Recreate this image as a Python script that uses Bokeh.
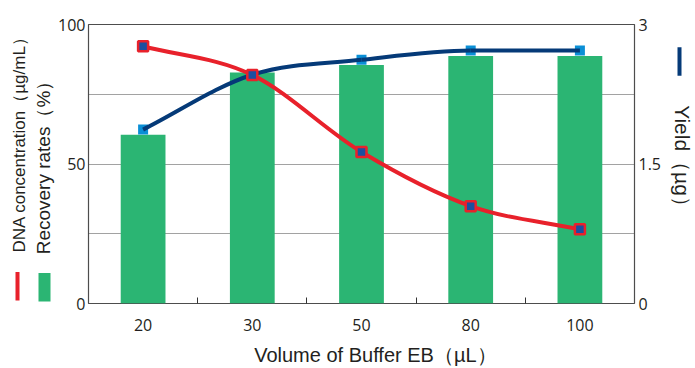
import math
from bokeh.plotting import figure
from bokeh.layouts import row
from bokeh.models import Range1d, LinearAxis, FixedTicker, ColumnDataSource
from bokeh.core.properties import value
from bokeh.embed import file_html
from bokeh.resources import INLINE

# ---- data ----
volumes = ["20", "30", "50", "80", "100"]
recovery = [60.5, 82.8, 85.5, 88.7, 88.7]          # Recovery rates (%)  - left axis
concentration = [92.2, 81.9, 54.3, 34.9, 26.6]     # DNA concentration (ug/mL) - left axis
yield_ug = [1.87, 2.46, 2.62, 2.72, 2.72]           # Yield (ug) - right axis
left_ticks = [0, 50, 100]
right_ticks = [0, 1.5, 3]
grid_vals = [25, 50, 75]

xpos = [i + 0.5 for i in range(len(volumes))]

RED = "#e8212b"
NAVY = "#053a78"
GREEN = "#2bb573"
LBLUE = "#0a8fd6"
MBLUE = "#1b4fa0"
TXT = "#231f20"
TICKFONT = "Open Sans"
TITLEFONT = "Liberation Sans"
NB = "\u00a0"

H = 368
LW, RW = 55, 31
MW = 695 - LW - RW
FRAME_L, FRAME_R, FRAME_T, FRAME_B = 86, 635, 24, 307


def monotone_bezier(xs, ys):
    """Monotone cubic (Fritsch-Carlson) curve through the data points, as Bezier segments."""
    n = len(xs)
    d = [(ys[k + 1] - ys[k]) / (xs[k + 1] - xs[k]) for k in range(n - 1)]
    m = [0.0] * n
    m[0], m[-1] = d[0], d[-1]
    for k in range(1, n - 1):
        m[k] = 0.0 if d[k - 1] * d[k] <= 0 else (d[k - 1] + d[k]) / 2
    for k in range(n - 1):
        if d[k] == 0:
            m[k] = m[k + 1] = 0.0
            continue
        a, b = m[k] / d[k], m[k + 1] / d[k]
        s = a * a + b * b
        if s > 9:
            t = 3 / math.sqrt(s)
            m[k], m[k + 1] = t * a * d[k], t * b * d[k]
    out = dict(x0=[], y0=[], x1=[], y1=[], cx0=[], cy0=[], cx1=[], cy1=[])
    for k in range(n - 1):
        h = xs[k + 1] - xs[k]
        out["x0"].append(xs[k]); out["y0"].append(ys[k])
        out["x1"].append(xs[k + 1]); out["y1"].append(ys[k + 1])
        out["cx0"].append(xs[k] + h / 3); out["cy0"].append(ys[k] + m[k] * h / 3)
        out["cx1"].append(xs[k + 1] - h / 3); out["cy1"].append(ys[k + 1] - m[k + 1] * h / 3)
    return ColumnDataSource(out)


# ---------------- main chart ----------------
p = figure(width=MW, height=H, output_backend="svg", toolbar_location=None,
           x_range=Range1d(0, len(volumes)), y_range=Range1d(0, 100),
           min_border_left=FRAME_L - LW, min_border_right=(695 - RW) - FRAME_R,
           min_border_top=FRAME_T, min_border_bottom=H - FRAME_B)
p.extra_y_ranges = {"yield": Range1d(0, 3)}

p.outline_line_color = "#4d4d4d"
p.outline_line_width = 1.2
p.outline_line_alpha = 1

p.xgrid.visible = False
p.ygrid.ticker = FixedTicker(ticks=grid_vals)
p.ygrid.grid_line_color = "#444444"
p.ygrid.grid_line_dash = "1 1"
p.ygrid.grid_line_width = 1
p.ygrid.level = "underlay"

xa = p.xaxis[0]
xa.ticker = FixedTicker(ticks=xpos, minor_ticks=[1, 2, 3, 4])
xa.major_label_overrides = {x: v for x, v in zip(xpos, volumes)}
xa.axis_line_color = None
xa.major_tick_line_color = None
xa.major_tick_in = 0
xa.major_tick_out = 0
xa.minor_tick_in = 6
xa.minor_tick_out = 0
xa.minor_tick_line_color = "#333333"
xa.major_label_standoff = 15
xa.major_label_text_font = TICKFONT
xa.major_label_text_font_size = "16px"
xa.major_label_text_color = TXT
xa.axis_label = NB * 5 + "Volume of Buffer EB（µL）"
xa.axis_label_text_font = TITLEFONT
xa.axis_label_text_font_size = "20px"
xa.axis_label_text_font_style = "normal"
xa.axis_label_text_color = TXT
xa.axis_label_standoff = 10

ya = p.yaxis[0]
ya.ticker = FixedTicker(ticks=left_ticks)
ya.axis_line_color = None
ya.major_tick_line_color = None
ya.minor_tick_line_color = None
ya.major_tick_in = 0
ya.major_tick_out = 0
ya.minor_tick_in = 0
ya.minor_tick_out = 0
ya.major_label_standoff = 3
ya.major_label_text_font = TICKFONT
ya.major_label_text_font_size = "16px"
ya.major_label_text_color = TXT

ra = LinearAxis(y_range_name="yield", ticker=FixedTicker(ticks=right_ticks))
ra.major_label_overrides = {0: "0", 1.5: "1.5", 3: "3"}
ra.axis_line_color = None
ra.major_tick_line_color = None
ra.minor_tick_line_color = None
ra.major_tick_in = 0
ra.major_tick_out = 0
ra.minor_tick_in = 0
ra.minor_tick_out = 0
ra.major_label_standoff = 4
ra.major_label_text_font = TICKFONT
ra.major_label_text_font_size = "16px"
ra.major_label_text_color = TXT
p.add_layout(ra, "right")

p.vbar(x=xpos, top=recovery, width=0.41, bottom=0, color=GREEN, line_color=None)

p.scatter(x=xpos, y=yield_ug, y_range_name="yield", marker="square", size=10,
          fill_color=LBLUE, line_color=None)
bs = monotone_bezier(xpos, yield_ug)
p.bezier(x0="x0", y0="y0", x1="x1", y1="y1", cx0="cx0", cy0="cy0", cx1="cx1", cy1="cy1",
         source=bs, y_range_name="yield", line_color=NAVY, line_width=4)

bc = monotone_bezier(xpos, concentration)
p.bezier(x0="x0", y0="y0", x1="x1", y1="y1", cx0="cx0", cy0="cy0", cx1="cx1", cy1="cy1",
         source=bc, line_color=RED, line_width=4)
p.scatter(x=xpos, y=concentration, marker="square", size=10,
          fill_color=MBLUE, line_color=RED, line_width=2.5)


# ---------------- side panels (axis titles and legend swatches) ----------------
# In a row, Bokeh aligns the frames of the plots, so the side panels share the
# main frame's top/bottom; their y range is set so that one unit = one pixel.
def side_panel(w):
    f = figure(width=w, height=H, output_backend="svg", toolbar_location=None,
               title=None, x_axis_type=None, y_axis_type=None,
               x_range=Range1d(0, w), y_range=Range1d(FRAME_B, FRAME_T),
               min_border=0, min_border_left=0, min_border_right=0,
               min_border_top=FRAME_T, min_border_bottom=H - FRAME_B)
    f.grid.visible = False
    f.outline_line_color = None
    return f


lp = side_panel(LW)
lp.text(x=[19], y=[141.5], text=["DNA concentration（µg/mL）"], angle=math.pi / 2,
        text_font=value(TITLEFONT), text_font_size=value("17px"), text_color=TXT,
        text_align="center", text_baseline="middle")
lp.text(x=[43], y=[164.5], text=["Recovery rates（%）"], angle=math.pi / 2,
        text_font=value(TITLEFONT), text_font_size=value("19px"), text_color=TXT,
        text_align="center", text_baseline="middle")
lp.quad(left=[15], right=[19], top=[275], bottom=[304], fill_color=RED, line_color=None)
lp.quad(left=[38], right=[50], top=[276], bottom=[305], fill_color=GREEN, line_color=None)

OFF = 695 - RW
rp = side_panel(RW)
rp.text(x=[681.5 - OFF], y=[162.5], text=["Yield（µg）"], angle=-math.pi / 2,
        text_font=value(TITLEFONT), text_font_size=value("21px"), text_color=TXT,
        text_align="center", text_baseline="middle")
rp.quad(left=[677 - OFF], right=[681 - OFF], top=[47], bottom=[76],
        fill_color=NAVY, line_color=None)

layout = row(lp, p, rp)
open("out.html", "w").write(file_html(layout, INLINE))
